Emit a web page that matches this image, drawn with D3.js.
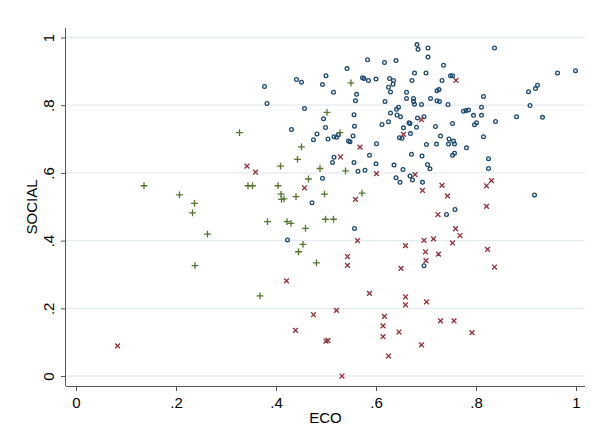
<!DOCTYPE html>
<html>
<head>
<meta charset="utf-8">
<script src="https://cdn.jsdelivr.net/npm/d3@7/dist/d3.min.js"></script>
<style>
  html, body { margin: 0; padding: 0; background: #fff; }
  svg { display: block; }
  text { font-family: "Liberation Sans", Arial, sans-serif; fill: #000; }
</style>
</head>
<body>
<svg id="chart" width="591" height="432"></svg>
<script>
// ---- data: [ECO, SOCIAL] pairs per group ----
const groupCircle = [
  [0.377,0.855],[0.382,0.805],[0.441,0.876],[0.451,0.868],[0.457,0.790],[0.493,0.861],
  [0.500,0.887],[0.515,0.838],[0.542,0.908],[0.583,0.934],[0.617,0.926],[0.640,0.932],
  [0.573,0.881],[0.576,0.879],[0.585,0.873],[0.600,0.877],[0.627,0.879],[0.635,0.873],
  [0.634,0.862],[0.625,0.853],[0.629,0.839],[0.661,0.838],[0.661,0.820],[0.561,0.832],
  [0.559,0.813],[0.618,0.811],[0.645,0.794],[0.641,0.788],[0.629,0.777],[0.642,0.771],
  [0.649,0.766],[0.556,0.772],[0.495,0.760],[0.499,0.734],[0.557,0.738],[0.625,0.751],
  [0.612,0.743],[0.655,0.733],[0.431,0.728],[0.482,0.715],[0.475,0.698],[0.504,0.700],
  [0.516,0.707],[0.521,0.705],[0.525,0.713],[0.554,0.709],[0.545,0.694],[0.548,0.692],
  [0.601,0.686],[0.647,0.704],[0.652,0.702],[0.587,0.652],[0.516,0.646],
  [0.682,0.979],[0.684,0.965],[0.704,0.969],[0.837,0.969],[0.704,0.942],[0.735,0.918],
  [0.677,0.895],[0.700,0.895],[0.672,0.873],[0.732,0.873],[0.749,0.887],[0.753,0.887],
  [0.963,0.895],[0.999,0.902],[0.675,0.820],[0.675,0.811],[0.677,0.803],[0.691,0.802],
  [0.709,0.820],[0.722,0.843],[0.726,0.846],[0.722,0.813],[0.727,0.811],[0.744,0.802],
  [0.815,0.826],[0.905,0.840],[0.919,0.849],[0.923,0.859],[0.908,0.799],[0.811,0.794],
  [0.775,0.782],[0.780,0.784],[0.785,0.786],[0.795,0.770],[0.811,0.770],[0.839,0.752],
  [0.881,0.766],[0.933,0.764],[0.683,0.762],[0.696,0.766],[0.666,0.748],[0.668,0.746],
  [0.681,0.735],[0.719,0.737],[0.753,0.746],[0.797,0.742],[0.801,0.748],[0.669,0.716],
  [0.729,0.709],[0.746,0.700],[0.755,0.694],[0.745,0.685],[0.757,0.685],[0.701,0.684],
  [0.721,0.685],[0.815,0.707],[0.781,0.674],[0.671,0.655],[0.692,0.650],[0.753,0.652],
  [0.757,0.658],[0.825,0.642],[0.825,0.613],[0.703,0.625],[0.708,0.612],[0.654,0.610],
  [0.668,0.591],[0.673,0.579],[0.648,0.572],[0.693,0.572],[0.917,0.535],[0.758,0.492],
  [0.741,0.477],[0.696,0.326],[0.513,0.631],[0.556,0.631],[0.600,0.627],[0.636,0.623],
  [0.564,0.605],[0.578,0.608],[0.493,0.584],[0.640,0.586],[0.472,0.512],[0.557,0.436],
  [0.423,0.402]
];
const groupCross = [
  [0.655,0.714],[0.568,0.676],[0.529,0.647],[0.760,0.873],[0.691,0.757],[0.678,0.595],
  [0.732,0.563],[0.693,0.548],[0.743,0.532],[0.821,0.562],[0.831,0.577],[0.821,0.501],
  [0.724,0.477],[0.759,0.435],[0.768,0.415],[0.696,0.401],[0.715,0.405],[0.753,0.393],
  [0.659,0.385],[0.823,0.374],[0.699,0.367],[0.725,0.360],[0.700,0.341],[0.837,0.322],
  [0.650,0.318],[0.342,0.620],[0.359,0.602],[0.601,0.598],[0.457,0.556],[0.559,0.522],
  [0.563,0.400],[0.543,0.353],[0.543,0.327],[0.421,0.281],[0.587,0.244],[0.659,0.234],
  [0.659,0.210],[0.475,0.181],[0.521,0.194],[0.439,0.135],[0.500,0.103],[0.504,0.105],
  [0.617,0.176],[0.614,0.148],[0.614,0.116],[0.646,0.130],[0.625,0.059],[0.532,0.000],
  [0.701,0.219],[0.729,0.163],[0.756,0.163],[0.792,0.128],[0.691,0.092],[0.083,0.089]
];
const groupPlus = [
  [0.327,0.719],[0.550,0.866],[0.502,0.779],[0.528,0.719],[0.451,0.677],[0.443,0.640],
  [0.409,0.620],[0.488,0.613],[0.539,0.606],[0.465,0.582],[0.344,0.562],[0.353,0.562],
  [0.404,0.562],[0.410,0.537],[0.416,0.523],[0.411,0.522],[0.440,0.530],[0.497,0.537],
  [0.572,0.540],[0.383,0.456],[0.422,0.456],[0.430,0.451],[0.499,0.463],[0.515,0.463],
  [0.459,0.436],[0.454,0.389],[0.445,0.367],[0.481,0.334],[0.136,0.562],[0.207,0.535],
  [0.237,0.510],[0.233,0.482],[0.263,0.419],[0.238,0.326],[0.368,0.237]
];
const xTicks = [0, 0.2, 0.4, 0.6, 0.8, 1];
const yTicks = [0, 0.2, 0.4, 0.6, 0.8, 1];
const xTickLabels = ["0", ".2", ".4", ".6", ".8", "1"];
const yTickLabels = ["0", ".2", ".4", ".6", ".8", "1"];
const xTitle = "ECO";
const yTitle = "SOCIAL";

// ---- layout ----
const plotLeft = 66, plotRight = 585, plotTop = 28, plotBottom = 386;
const x = d3.scaleLinear().domain([-0.02, 1.018]).range([plotLeft, plotRight]);
const y = d3.scaleLinear().domain([-0.0295, 1.028]).range([plotBottom, plotTop]);

const svg = d3.select("#chart");

// gridlines
svg.append("g").selectAll("line").data(yTicks).join("line")
  .attr("x1", plotLeft).attr("x2", plotRight)
  .attr("y1", d => y(d)).attr("y2", d => y(d))
  .attr("stroke", "#e4ecee").attr("stroke-width", 1.3);

// axes
const xAxis = d3.axisBottom(x).tickValues(xTicks)
  .tickFormat((d, i) => xTickLabels[i]).tickSize(5).tickSizeOuter(0);
const yAxis = d3.axisLeft(y).tickValues(yTicks)
  .tickFormat((d, i) => yTickLabels[i]).tickSize(5).tickSizeOuter(0);

const gx = svg.append("g").attr("transform", `translate(0,${plotBottom})`).call(xAxis);
gx.select(".domain").attr("d", `M${plotLeft},0.5H${plotRight}`).attr("stroke", "#555");
gx.selectAll(".tick line").attr("stroke", "#555");
gx.selectAll(".tick text").attr("font-size", 15).attr("font-family", "Liberation Sans, Arial, sans-serif")
  .attr("fill", "#000").attr("y", 0).attr("dy", 0)
  .attr("transform", "translate(0,22)");

const gy = svg.append("g").attr("transform", `translate(${plotLeft},0)`).call(yAxis);
gy.select(".domain").attr("d", `M-0.5,${plotTop}V${plotBottom}`).attr("stroke", "#555");
gy.selectAll(".tick line").attr("stroke", "#555");
gy.selectAll(".tick text")
  .attr("font-size", 15).attr("font-family", "Liberation Sans, Arial, sans-serif")
  .attr("fill", "#000")
  .attr("x", 0).attr("dy", 0)
  .attr("text-anchor", "middle")
  .attr("transform", "translate(-12.5,0) rotate(-90)");

// titles
svg.append("text").attr("x", (plotLeft + plotRight) / 2).attr("y", 422.5)
  .attr("text-anchor", "middle").attr("font-size", 15).text(xTitle);
svg.append("text").attr("transform", `translate(36.7,${(plotTop + plotBottom) / 2}) rotate(-90)`)
  .attr("text-anchor", "middle").attr("font-size", 15).text(yTitle);

// marks
const plot = svg.append("g");
plot.append("g").selectAll("circle").data(groupCircle).join("circle")
  .attr("cx", d => x(d[0])).attr("cy", d => y(d[1])).attr("r", 1.85)
  .attr("fill", "none").attr("stroke", "#1a476f").attr("stroke-width", 1.3);

const cs = 2.4;
plot.append("g").selectAll("path").data(groupCross).join("path")
  .attr("d", d => { const cx = x(d[0]), cy = y(d[1]);
    return `M${cx-cs},${cy-cs}L${cx+cs},${cy+cs}M${cx-cs},${cy+cs}L${cx+cs},${cy-cs}`; })
  .attr("stroke", "#90353b").attr("stroke-width", 1.35).attr("fill", "none");

const ps = 3.4;
plot.append("g").selectAll("path").data(groupPlus).join("path")
  .attr("d", d => { const cx = x(d[0]), cy = y(d[1]);
    return `M${cx-ps},${cy}L${cx+ps},${cy}M${cx},${cy-ps}L${cx},${cy+ps}`; })
  .attr("stroke", "#55752f").attr("stroke-width", 1.3).attr("fill", "none");
</script>
</body>
</html>
